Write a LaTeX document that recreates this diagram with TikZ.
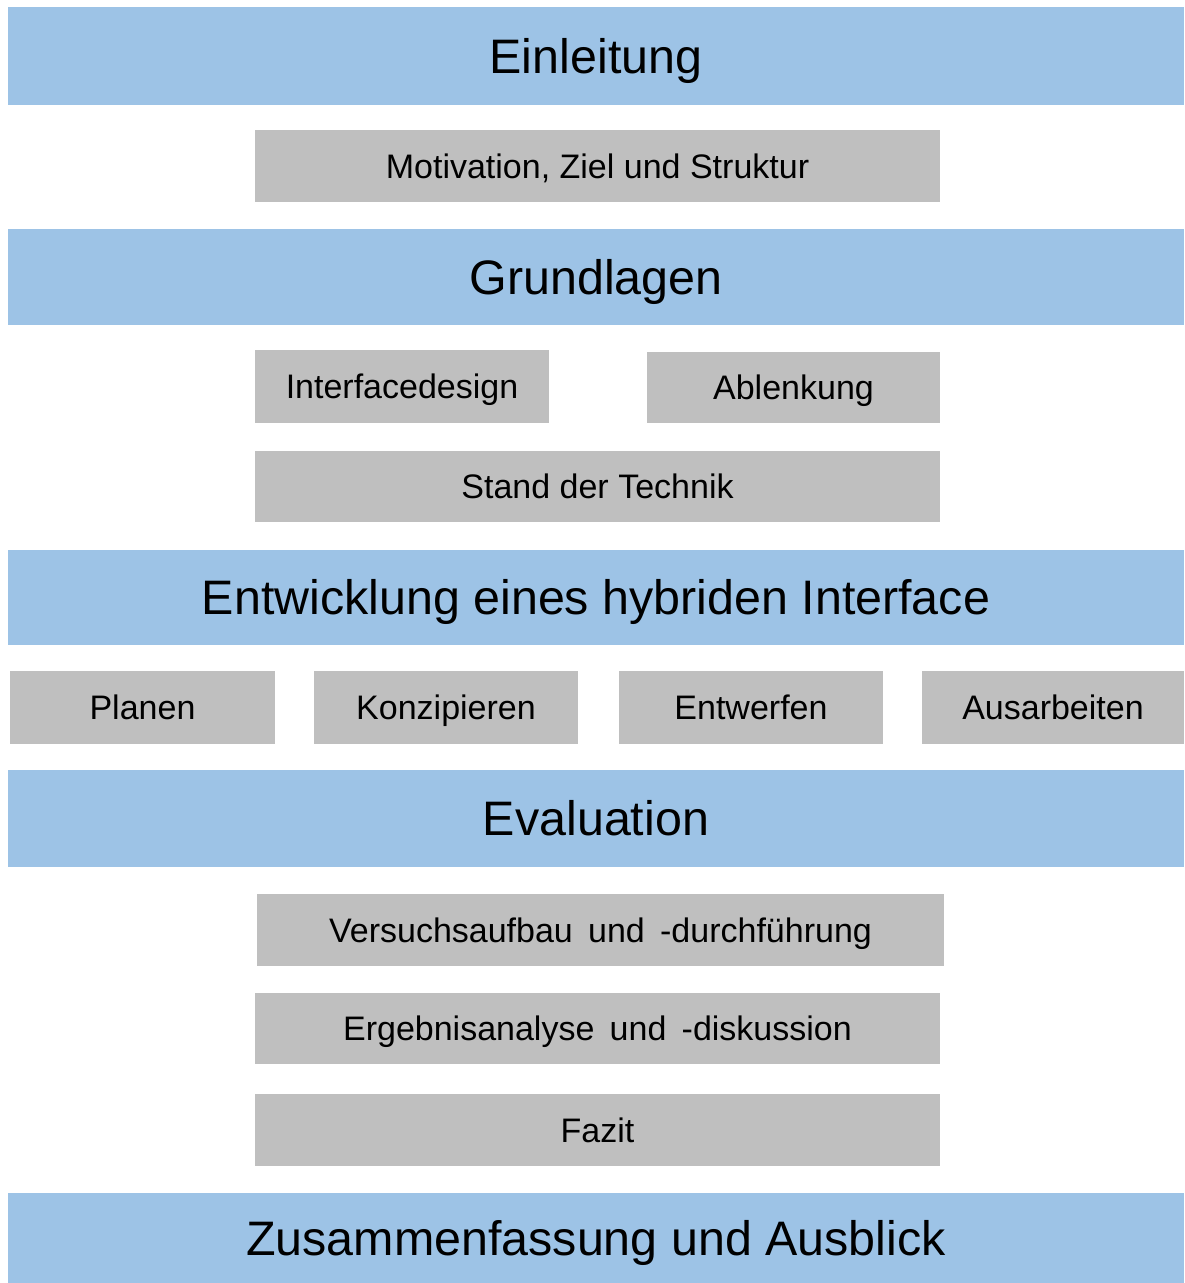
\documentclass[tikz,border=0pt]{standalone}
\usepackage{fontspec}
\setmainfont{Liberation Sans}
\definecolor{bandblue}{HTML}{9DC3E6}
\definecolor{boxgray}{HTML}{BFBFBF}
\newcommand{\gap}{\hspace{0.45em}}
\begin{document}
\begin{tikzpicture}[x=1pt,y=-1pt,
  bandtext/.style={inner sep=0pt,anchor=base,font=\fontsize{48.4}{52}\selectfont},
  topictext/.style={inner sep=0pt,anchor=base,font=\fontsize{34}{37}\selectfont}]
\useasboundingbox[fill=white] (0,0) rectangle (1184,1283);
% chapter band: name, top, bottom, title
\newcommand{\bandbox}[4]{%
  \fill[bandblue] (8,#2) rectangle (1184,#3);
  \node[bandtext] (#1) at (596,{#2+(#3-#2)/2+17}) {#4};}
% topic box: name, left, right, top, bottom, label
\newcommand{\topicbox}[6]{%
  \fill[boxgray] (#2,#4) rectangle (#3,#5);
  \node[topictext] (#1) at ({(#2+#3)/2},{(#4+#5)/2+12}) {#6};}
\bandbox{einl}{7}{105}{Einleitung}
\topicbox{moti}{255}{940}{130}{202}{Motivation, Ziel und Struktur}
\bandbox{grund}{229}{325}{Grundlagen}
\topicbox{iface}{255}{549}{350}{423}{Interfacedesign}
\topicbox{ablen}{647}{940}{352}{423}{Ablenkung}
\topicbox{stand}{255}{940}{451}{522}{Stand der Technik}
\bandbox{entw}{550}{645}{Entwicklung eines hybriden Interface}
\topicbox{plan}{10}{275}{671}{744}{Planen}
\topicbox{konz}{314}{578}{671}{744}{Konzipieren}
\topicbox{entwf}{619}{883}{671}{744}{Entwerfen}
\topicbox{ausarb}{922}{1184}{671}{744}{Ausarbeiten}
\bandbox{eval}{770}{867}{Evaluation}
\topicbox{vers}{257}{944}{894}{966}{Versuchsaufbau\gap und\gap -durchführung}
\topicbox{ergeb}{255}{940}{993}{1064}{Ergebnisanalyse\gap und\gap -diskussion}
\topicbox{fazit}{255}{940}{1094}{1166}{Fazit}
\bandbox{zus}{1193}{1283}{Zusammenfassung und Ausblick}
\end{tikzpicture}
\end{document}
